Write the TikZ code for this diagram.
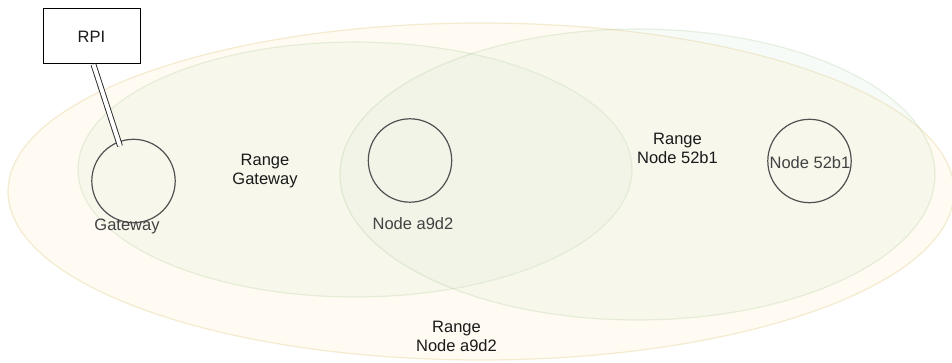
\documentclass[tikz,border=0pt]{standalone}
\usepackage{fontspec}
\setmainfont{Liberation Sans}
\usetikzlibrary{calc}
\definecolor{rangefill}{HTML}{FFF2CC}
\definecolor{rangeline}{HTML}{D6B656}
\definecolor{gwfill}{HTML}{D5E8D4}
\definecolor{gwline}{HTML}{82B366}
\definecolor{devline}{HTML}{505050}
\definecolor{txt}{HTML}{1A1A1A}
\begin{document}
\begin{tikzpicture}[x=1pt,y=-1pt,
  rangearea/.style={line width=1.2pt},
  orangearea/.style={rangearea, fill=rangefill, draw=rangeline, opacity=0.25},
  greenarea/.style={rangearea, fill=gwfill, draw=gwline, opacity=0.17},
  devcircle/.style={circle, draw=devline, line width=1.2pt, minimum size=83.4pt, inner sep=0pt},
  rangelbl/.style={font=\fontsize{16.5}{19.5}\selectfont, text=txt, align=center, inner sep=0pt},
  devlbl/.style={font=\fontsize{16.5}{19.5}\selectfont, text=black!74, inner sep=0pt},
  rpibox/.style={draw=black, fill=white, line width=1pt, minimum width=97pt, minimum height=55pt,
    font=\fontsize{16.5}{19.5}\selectfont, text=txt},
  cable/.style={double, double distance=4pt, line width=0.9pt, draw=black!85},
]
\useasboundingbox (0,0) rectangle (952,363);
\fill[white] (0,0) rectangle (952,363);

% radio ranges
\draw[orangearea] (481,191.5) ellipse [x radius=473, y radius=168.5];
\draw[greenarea] (355,169.5) ellipse [x radius=277, y radius=127.5];
\draw[greenarea] (637.5,174.5) ellipse [x radius=297.5, y radius=145.5];

% range labels
\node[rangelbl] (rgw) at (265,171) {Range\\Gateway};
\node[rangelbl] (r52b1) at (677.5,148.5) {Range\\Node 52b1};
\node[rangelbl] (ra9d2) at (456.5,336.5) {Range\\Node a9d2};

% devices
\node[devcircle] (gw) at (133.5,181) {};
\node[devlbl] (gwlbl) at (127,226) {Gateway};
\node[devcircle] (a9d2) at (410,160.5) {};
\node[devlbl] (a9d2lbl) at (413,224) {Node a9d2};
\node[devcircle] (n52b1) at (809.5,161) {};
\node[devlbl] (n52b1lbl) at (810,162.5) {Node 52b1};

% host computer and its cable to the gateway
\node[rpibox] (rpi) at (91.5,36.5) {RPI};
\draw[cable] (rpi.-86) -- ($(gw.center)+(-13.5,-35)$);
\end{tikzpicture}
\end{document}
